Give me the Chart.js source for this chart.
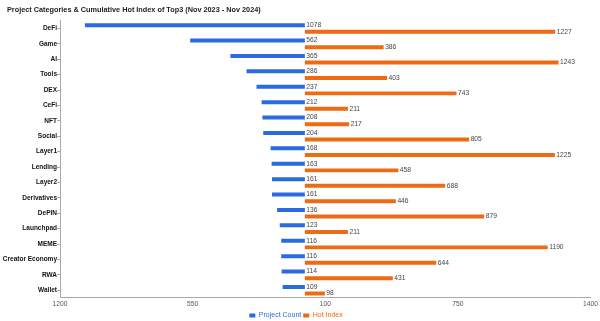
<!DOCTYPE html>
<html>
<head>
<meta charset="utf-8">
<script src="https://cdn.jsdelivr.net/npm/chart.js@4"></script>
<style>
html, body { margin: 0; padding: 0; background: #fff; }
#wrap { width: 600px; height: 321px; }
</style>
</head>
<body>
<div id="wrap"><canvas id="chart"></canvas></div>
<script>
// data
const categories = ['DeFi', 'Game', 'AI', 'Tools', 'DEX', 'CeFi', 'NFT', 'Social', 'Layer1', 'Lending',
  'Layer2', 'Derivatives', 'DePIN', 'Launchpad', 'MEME', 'Creator Economy', 'RWA', 'Wallet'];
const projectCount = [1078, 562, 365, 286, 237, 212, 208, 204, 168, 163, 161, 161, 136, 123, 116, 116, 114, 109];
const hotIndex = [1227, 386, 1243, 403, 743, 211, 217, 805, 1225, 458, 688, 446, 879, 211, 1190, 644, 431, 98];
const xTicks = [-1200, -550, 100, 750, 1400];

const BLUE = '#2b6be0';
const ORANGE = '#ee6a14';
const FONT = 'Liberation Sans, Arial, sans-serif';

// value labels: counts sit just right of zero, hot index at bar end
const valueLabels = {
  id: 'valueLabels',
  afterLayout(chart) {
    // nudge the title in a bit from the canvas edge
    chart.titleBlock.left = 7;
  },
  afterDatasetsDraw(chart) {
    const ctx = chart.ctx;
    const zero = chart.scales.x.getPixelForValue(0);
    ctx.save();
    ctx.font = '6.7px ' + FONT;
    ctx.fillStyle = '#444';
    ctx.textBaseline = 'middle';
    ctx.textAlign = 'left';
    chart.getDatasetMeta(0).data.forEach((bar, i) => {
      ctx.fillText(projectCount[i], zero + 1.5, bar.y);
    });
    chart.getDatasetMeta(1).data.forEach((bar, i) => {
      ctx.fillText(hotIndex[i], bar.x + 1.5, bar.y);
    });
    ctx.restore();
  }
};

new Chart(document.getElementById('chart'), {
  type: 'bar',
  data: {
    labels: categories,
    datasets: [{
      label: 'Project Count',
      data: projectCount.map(v => -v),
      backgroundColor: BLUE,
      barPercentage: 0.6,
      categoryPercentage: 0.86
    }, {
      label: 'Hot Index',
      data: hotIndex,
      backgroundColor: ORANGE,
      barPercentage: 0.6,
      categoryPercentage: 0.86
    }]
  },
  options: {
    indexAxis: 'y',
    responsive: true,
    maintainAspectRatio: false,
    animation: false,
    // legend box carries ~10px of empty space below, pull it past the edge
    layout: { padding: { top: 0, right: 9, left: 1, bottom: -8 } },
    plugins: {
      title: {
        display: true,
        text: 'Project Categories & Cumulative Hot Index of Top3 (Nov 2023 - Nov 2024)',
        align: 'start',
        color: '#222',
        font: { family: FONT, size: 7.3, weight: 'bold' },
        padding: { top: 6, bottom: 6 }
      },
      legend: {
        position: 'bottom',
        labels: {
          boxWidth: 6,
          boxHeight: 4,
          padding: 2,
          font: { family: FONT, size: 7 },
          generateLabels(chart) {
            return chart.data.datasets.map((ds, i) => ({
              text: ds.label,
              fillStyle: ds.backgroundColor,
              strokeStyle: ds.backgroundColor,
              fontColor: ds.backgroundColor,
              lineWidth: 0,
              datasetIndex: i
            }));
          }
        }
      },
      tooltip: { enabled: false }
    },
    scales: {
      x: {
        min: -1200,
        max: 1400,
        afterBuildTicks(axis) { axis.ticks = xTicks.map(v => ({ value: v })); },
        ticks: {
          callback: v => Math.abs(v),
          color: '#555',
          font: { family: FONT, size: 6.7 },
          maxRotation: 0,
          padding: 2
        },
        grid: { drawOnChartArea: false, drawTicks: false },
        border: { color: '#aaa' }
      },
      y: {
        afterFit(axis) { axis.width = 59; },
        ticks: {
          color: '#111',
          font: { family: FONT, size: 6.5, weight: 'bold' },
          padding: 0,
          autoSkip: false
        },
        grid: { drawOnChartArea: false, offset: false, tickLength: 3, color: '#aaa' },
        border: { color: '#aaa' }
      }
    }
  },
  plugins: [valueLabels]
});
</script>
</body>
</html>
